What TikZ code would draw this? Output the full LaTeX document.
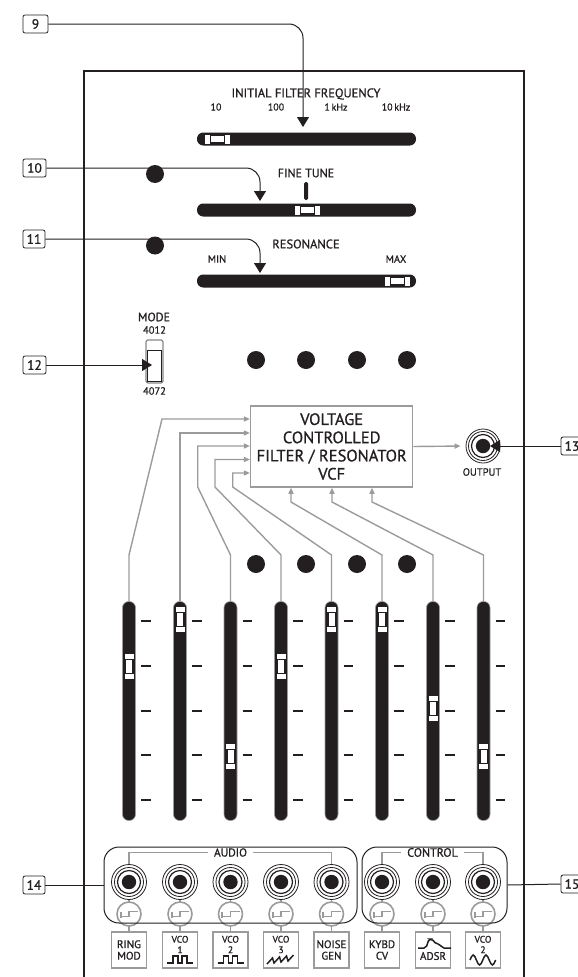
\documentclass[tikz,border=0pt]{standalone}
\usepackage{fontspec}
\setmainfont[FakeBold=0.9]{PT Sans}
\usetikzlibrary{arrows.meta,positioning}

\definecolor{panelink}{HTML}{231F20}
\definecolor{wiregray}{HTML}{9B9B9B}

\begin{document}
\begin{tikzpicture}[
  x=1pt, y=-1pt,
  ink/.style={text=panelink, inner sep=0pt},
  tag/.style={draw=panelink, rounded corners=2pt, line width=0.8pt, minimum height=18pt, inner sep=0pt, text=panelink, font=\fontsize{13.5}{13.5}\selectfont},
  callout/.style={draw=panelink, line width=1pt, rounded corners=14pt},
  hslider/.style={fill=panelink, rounded corners=6.2pt, minimum width=219pt, minimum height=13pt, inner sep=0pt},
  vslider/.style={draw=wiregray, line width=0.6pt, fill=panelink, rounded corners=6.2pt, minimum width=13pt, minimum height=219pt, inner sep=0pt},
  dot/.style={circle, fill=panelink, minimum size=18pt, inner sep=0pt},
  wire/.style={draw=wiregray, line width=1.4pt},
  srcbox/.style={draw=wiregray, line width=1.4pt, minimum width=35pt, minimum height=36pt, inner sep=0pt},
  srctext/.style={ink, align=center, font=\fontsize{11}{11.5}\selectfont},
  vcotext/.style={ink, align=center, font=\fontsize{9.5}{10.5}\selectfont},
  wave/.style={draw=panelink, line width=1.5pt},
  jack/.style={circle, draw=panelink, line width=0.8pt, minimum size=35pt, inner sep=0pt},
  groupbox/.style={draw=panelink, line width=1pt, rounded corners=15pt, minimum height=76pt, inner sep=0pt},
  pics/handle/.style={code={
    \fill[white] (-4.5,-12.5) rectangle (4.5,12.5);
    \fill[panelink] (-4.5,-7.5) rectangle (4.5,7.5);
    \fill[white] (-3,-6.5) rectangle (3,6.5);
  }},
  pics/rings/.style={code={
    \draw[panelink, line width=0.8pt] (0,0) circle (14.5pt);
    \draw[panelink, line width=1.2pt] (0,0) circle (11.5pt);
    \fill[panelink] (0,0) circle (7.2pt);
  }},
  pics/selector/.style={code={
    \draw[wiregray, line width=1.6pt] (0,0) circle (12pt);
    \draw[wiregray, line width=1.6pt] (9,-2.5) -- (0,-2.5) -- (0,2.5) -- (-8,2.5);
    \draw[wiregray, line width=2pt] (-8.5,-2) -- (-8.5,4);
  }},
  >={Triangle[length=10pt,width=12pt]}
]
\useasboundingbox (0,0) rectangle (578,977);

\draw[panelink, line width=2pt] (84,977) -- (84,71) -- (523.5,71) -- (523.5,977);

\node[ink, font=\fontsize{12.5}{12.5}\selectfont] (freqtitle) at (306,94) {INITIAL FILTER FREQUENCY};
\node[ink, font=\fontsize{10}{10}\selectfont] (freq10) at (216,107) {10};
\node[ink, font=\fontsize{10}{10}\selectfont] (freq100) at (276,107) {100};
\node[ink, font=\fontsize{10}{10}\selectfont] (freq1k) at (336,107) {1\,kHz};
\node[ink, font=\fontsize{10}{10}\selectfont] (freq10k) at (396,107) {10\,kHz};
\node[ink, font=\fontsize{12}{12}\selectfont] (tunetitle) at (306,173) {FINE TUNE};
\node[ink, font=\fontsize{12.5}{12.5}\selectfont] (restitle) at (306,244) {RESONANCE};
\node[ink, font=\fontsize{10.5}{10.5}\selectfont] (resmin) at (217,259) {MIN};
\node[ink, font=\fontsize{10.5}{10.5}\selectfont] (resmax) at (396,259) {MAX};

\node[hslider] (freqslider) at (306.5,139) {};
\node[hslider] (tuneslider) at (306.5,210) {};
\node[hslider] (resslider) at (306.5,281) {};
\pic[rotate=90] at (217,139) {handle};
\pic[rotate=90] at (307,210) {handle};
\pic[rotate=90] at (397,281) {handle};
\fill[panelink, rounded corners=1.5pt] (304.2,182) rectangle (308,200);

\node[dot] (dota) at (155,174) {};
\node[dot] (dotb) at (155,245.5) {};
\foreach \x [count=\i] in {256,306,357,407} {
  \node[dot] (dotup\i) at (\x,360) {};
  \node[dot] (dotlo\i) at (\x,564) {};
}

\node[ink, font=\fontsize{12}{12}\selectfont] (modetitle) at (154,317) {MODE};
\node[ink, font=\fontsize{10.5}{10.5}\selectfont] (mode4012) at (154.5,330) {4012};
\node[ink, font=\fontsize{10.5}{10.5}\selectfont] (mode4072) at (154.5,391) {4072};
\node[draw=panelink, line width=0.6pt, rounded corners=1.5pt, minimum width=17pt, minimum height=43pt, inner sep=0pt] (modeswitch) at (154.5,361.5) {};
\draw[panelink, line width=1pt] (147.5,350) rectangle (161.5,381);

\node[draw=wiregray, line width=1.5pt, minimum width=162pt, minimum height=81pt, inner sep=0pt, align=center, text=panelink, font=\fontsize{16.5}{18.2}\selectfont] (vcf) at (331.7,446.5) {VOLTAGE\\CONTROLLED\\FILTER / RESONATOR\\VCF};

\node[jack, minimum size=34pt] (outjack) at (483,446) {};
\pic at (483,446) {rings};
\node[ink, font=\fontsize{10.5}{10.5}\selectfont] (outlabel) at (482,472) {OUTPUT};

\foreach \x/\y [count=\i] in {129/666,180/619,230.5/756,281/666,331.5/619,382/619,433/708,483.5/756} {
  \node[vslider] (fader\i) at (\x,711) {};
  \pic at (\x,\y) {handle};
  \foreach \t in {621,666,711,755,800} {
    \draw[panelink, line width=1.1pt] (\x+12,\t) -- (\x+21.5,\t);
  }
}

\begin{scope}[every path/.append style={wire}, >={Triangle[length=6pt,width=5pt]}]
\draw[->] (fader1.north) -- (129,555) -- (162,419) -- (vcf.west |- 0,419);
\draw[->] (fader2.north) -- (180,433) -- (vcf.west |- 0,433);
\draw[->] (fader3.north) -- (230.5,555) -- (197.7,487) -- (197.7,446) -- (vcf.west |- 0,446);
\draw[->] (fader4.north) -- (281,555) -- (215,487) -- (215,459.5) -- (vcf.west |- 0,459.5);
\draw[->] (fader5.north) -- (331.5,555) -- (232.7,487) -- (232.7,473) -- (vcf.west |- 0,473);
\draw[->] (fader6.north) -- (382,555) -- (291,502) -- (vcf.south -| 291,0);
\draw[->] (fader7.north) -- (433,555) -- (332,502) -- (vcf.south -| 332,0);
\draw[->] (fader8.north) -- (483.5,555) -- (372,502) -- (vcf.south -| 372,0);
\draw[->, shorten >=5pt] (vcf.east) -- (outjack.west);
\end{scope}

\foreach \x/\name in {129/ring,180/vcoa,230.5/vcob,281/vcoc,331.5/noise,382/kybd,433/adsr,483/vcod} {
  \pic at (\x,914) {selector};
  \node[jack] (jack\name) at (\x,882) {};
  \pic at (\x,882) {rings};
  \node[srcbox] (src\name) at (\x,950) {};
  \draw[wire] (jack\name.south) -- ++(0,3.5);
  \draw[wire] (src\name.north) -- ++(0,-6);
}

\node[groupbox, minimum width=253pt] (audiogroup) at (230.5,885) {};
\node[groupbox, minimum width=145pt] (controlgroup) at (434.5,885) {};

\node[ink, font=\fontsize{11.5}{11.5}\selectfont] (audiolabel) at (230.5,852.5) {AUDIO};
\node[ink, font=\fontsize{12}{12}\selectfont] (controllabel) at (432.5,852.5) {CONTROL};
\draw[wire, shorten <=6pt] (audiolabel.west) -| (jackring.north);
\draw[wire, shorten <=6pt] (audiolabel.east) -| (jacknoise.north);
\draw[wire, shorten <=6pt] (controllabel.west) -| (jackkybd.north);
\draw[wire, shorten <=6pt] (controllabel.east) -| (jackvcod.north);

\node[srctext] (txtring) at (srcring) {RING\\MOD};
\node[srctext] (txtnoise) at (srcnoise) {NOISE\\GEN};
\node[srctext] (txtkybd) at (srckybd) {KYBD\\CV};
\node[srctext] (txtadsr) at (433,956) {ADSR};
\node[vcotext] (txtvcoa) at (180,944.5) {VCO\\1};
\node[vcotext] (txtvcob) at (230.5,944.5) {VCO\\2};
\node[vcotext] (txtvcoc) at (281,944.5) {VCO\\3};
\node[vcotext] (txtvcod) at (483,944.5) {VCO\\2};

\foreach \name in {vcoa,vcob} {
  \draw[wave] (src\name.center) ++(-13,13) -- ++(6,0) -- ++(0,-7) -- ++(5,0) -- ++(0,7) -- ++(4,0) -- ++(0,-7) -- ++(5,0) -- ++(0,7) -- ++(6,0);
}
\draw[wave] (srcvcoc.center) ++(-14,14) -- ++(5.5,-6) -- ++(1.5,5) -- ++(5.5,-6) -- ++(1.5,5) -- ++(5.5,-6) -- ++(1.5,5) -- ++(5.5,-6);
\draw[wave] (srcvcod.center) ++(-13,10) sin ++(3.2,-5) cos ++(3.2,5) sin ++(3.2,5) cos ++(3.2,-5) sin ++(3.2,-5) cos ++(3.2,5) sin ++(3.2,5) cos ++(3.2,-5);
\draw[wave, rounded corners=2pt] (srcadsr.center) ++(-15,-2) -- ++(8,0) -- ++(3,-9) -- ++(3,0) -- ++(4,5) -- ++(4,0) -- ++(2,4) -- ++(9,0);

\node[tag, minimum width=25pt] (tagnine) at (35.5,24) {9};
\node[tag, minimum width=23pt] (tagten) at (34.5,168) {10};
\node[tag, minimum width=22pt] (tageleven) at (34,239) {11};
\node[tag, minimum width=23pt] (tagtwelve) at (34.5,365) {12};
\node[tag, minimum width=22pt] (tagthirteen) at (572,446) {13};
\node[tag, minimum width=22pt] (tagfourteen) at (34,885) {14};
\node[tag, minimum width=22pt] (tagfifteen) at (572,884) {15};

\coordinate (freqtip) at (303,127);
\coordinate (tunetip) at (260,201);
\coordinate (restip) at (260,273);
\coordinate (modetip) at (152,365);

\draw[->, callout] (tagnine.east) -| (freqtip);
\draw[->, callout] (tagten.east) -- (tagten.east -| tunetip) -- (tunetip);
\draw[->, callout] (tageleven.east) -- (tageleven.east -| restip) -- (restip);
\draw[->, callout] (tagtwelve.east) -- (modetip);
\draw[->, callout, shorten >=7pt] (tagthirteen.west) -- (outjack.center);
\draw[callout] (tagfourteen.east) -- (audiogroup.west);
\draw[callout] (tagfifteen.west) -- (controlgroup.east);
\end{tikzpicture}
\end{document}
